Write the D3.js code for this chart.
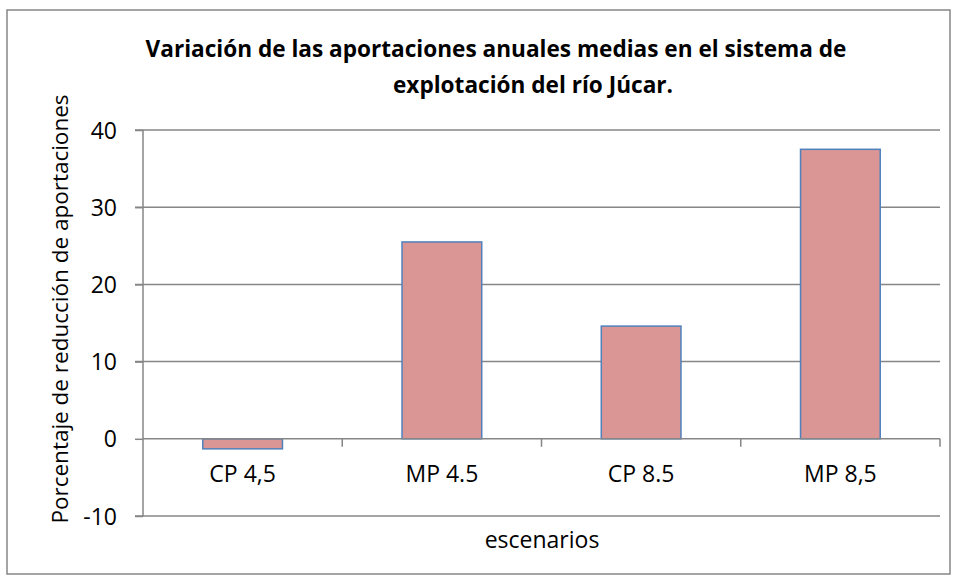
<!DOCTYPE html>
<html>
<head>
<meta charset="utf-8">
<script src="https://cdn.jsdelivr.net/npm/d3@7"></script>
<style>
  body { margin: 0; background: #fff; }
  text { font-family: "Open Sans", sans-serif; fill: #000; }
</style>
</head>
<body>
<svg id="chart"></svg>
<script>
var width = 956;
var height = 580;

var categories = ["CP 4,5", "MP 4.5", "CP 8.5", "MP 8,5"];
var values = [-1.3, 25.5, 14.6, 37.5];
var yTicks = [-10, 0, 10, 20, 30, 40];
var titleLines = ["Variación de las aportaciones anuales medias en el sistema de", "explotación del río Júcar."];
var titleCenters = [496, 533];
var yTitle = "Porcentaje de reducción de aportaciones";
var xTitle = "escenarios";

var svg = d3.select("#chart").attr("width", width).attr("height", height);

// outer chart frame
svg.append("rect")
    .attr("x", 7).attr("y", 10)
    .attr("width", 943).attr("height", 564)
    .attr("fill", "#fff")
    .attr("stroke", "#868686")
    .attr("stroke-width", 1.5);

var x = d3.scaleBand()
    .domain(categories)
    .range([143, 940])
    .paddingInner(0.6)
    .paddingOuter(0.3);

var y = d3.scaleLinear()
    .domain([-10, 40])
    .range([516, 130]);

// horizontal grid lines
svg.append("g")
    .selectAll("line")
    .data(yTicks.filter(function (d) { return d !== 0; }))
    .enter().append("line")
    .attr("x1", 135).attr("x2", 940)
    .attr("y1", function (d) { return y(d); })
    .attr("y2", function (d) { return y(d); })
    .style("stroke", "#868686")
    .style("stroke-width", "1.5px");

// y axis
var yAxis = svg.append("g")
    .attr("transform", "translate(143,0)")
    .call(d3.axisLeft(y)
        .tickValues(yTicks)
        .tickFormat(function (d) { return String(d); })
        .tickSize(8)
        .tickPadding(18));
yAxis.select(".domain").remove();
yAxis.selectAll("line").style("stroke", "#868686").style("stroke-width", "1.5px");
yAxis.selectAll("text")
    .style("font-family", "'Open Sans', sans-serif")
    .style("font-size", "23px")
    .style("fill", "#000")
    .attr("dy", "0.35em");
svg.append("line")
    .attr("x1", 143).attr("x2", 143)
    .attr("y1", y(40)).attr("y2", y(-10))
    .style("stroke", "#868686").style("stroke-width", "1.5px");

// bars
svg.append("g")
    .selectAll("rect")
    .data(values)
    .enter().append("rect")
    .attr("x", function (d, i) { return x(categories[i]); })
    .attr("y", function (d) { return y(Math.max(0, d)); })
    .attr("width", x.bandwidth())
    .attr("height", function (d) { return Math.abs(y(d) - y(0)); })
    .attr("fill", "#D99694")
    .attr("stroke", "#4F81BD")
    .attr("stroke-width", 1.5);

// zero line with category separators
svg.append("line")
    .attr("x1", 143).attr("x2", 940)
    .attr("y1", y(0)).attr("y2", y(0))
    .style("stroke", "#868686").style("stroke-width", "1.5px");
svg.append("g")
    .selectAll("line")
    .data(categories)
    .enter().append("line")
    .attr("x1", function (d) { return x(d) + x.bandwidth() + x.step() * x.paddingInner() / 2; })
    .attr("x2", function (d) { return x(d) + x.bandwidth() + x.step() * x.paddingInner() / 2; })
    .attr("y1", y(0)).attr("y2", y(0) + 8)
    .style("stroke", "#868686").style("stroke-width", "1.5px");

// category labels
svg.append("g")
    .selectAll("text")
    .data(categories)
    .enter().append("text")
    .attr("x", function (d) { return x(d) + x.bandwidth() / 2; })
    .attr("y", 482)
    .attr("text-anchor", "middle")
    .style("font-size", "23px")
    .text(function (d) { return d; });

// titles
svg.append("g")
    .selectAll("text")
    .data(titleLines)
    .enter().append("text")
    .attr("x", function (d, i) { return titleCenters[i]; })
    .attr("y", function (d, i) { return 57 + i * 36; })
    .attr("text-anchor", "middle")
    .style("font-size", "22.6px")
    .style("font-weight", "bold")
    .text(function (d) { return d; });

svg.append("text")
    .attr("transform", "translate(68,309) rotate(-90)")
    .attr("text-anchor", "middle")
    .style("font-size", "22.5px")
    .text(yTitle);

svg.append("text")
    .attr("x", 542)
    .attr("y", 548)
    .attr("text-anchor", "middle")
    .style("font-size", "23px")
    .text(xTitle);
</script>
</body>
</html>
